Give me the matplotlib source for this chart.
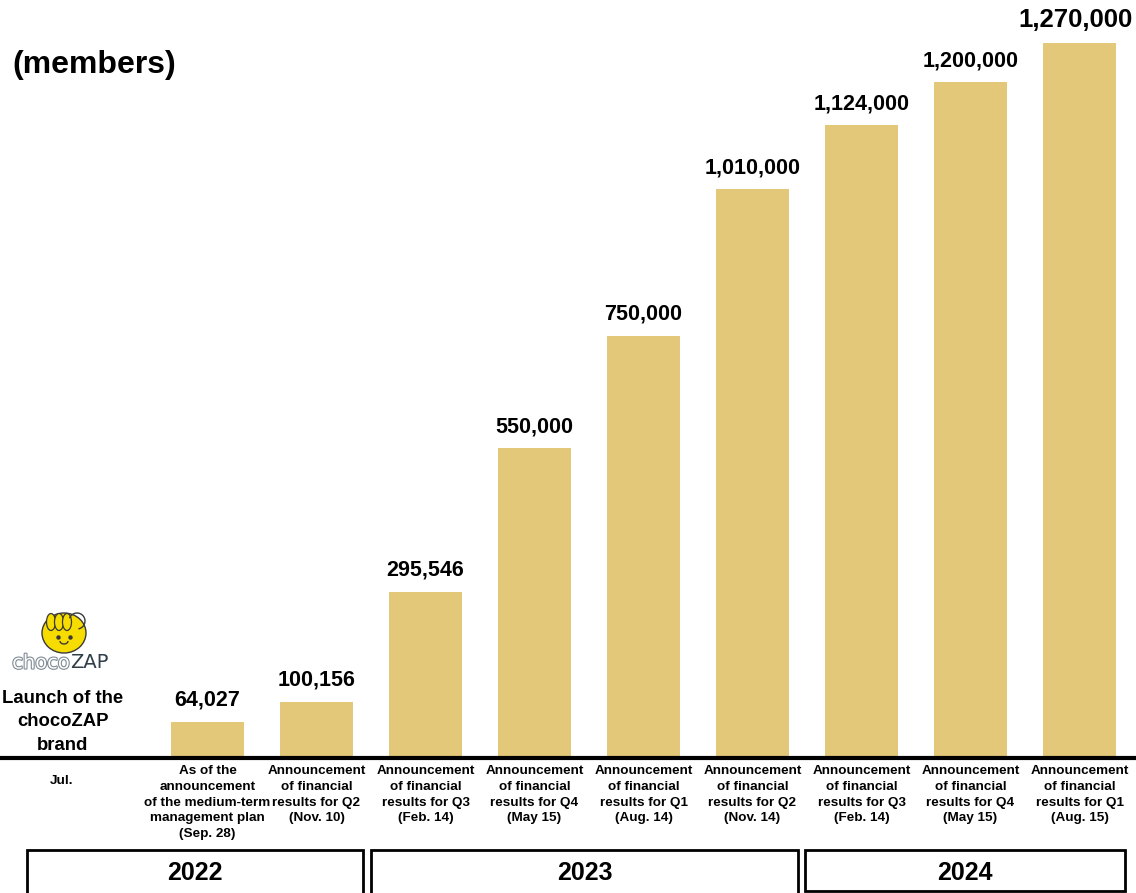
import matplotlib
matplotlib.use("Agg")
import matplotlib.pyplot as plt
from matplotlib.patches import Rectangle, Ellipse, Arc
import matplotlib.patheffects as pe

plt.rcParams['font.family'] = ['Liberation Sans', 'DejaVu Sans']

# ---- data ----
values = [64027, 100156, 295546, 550000, 750000, 1010000, 1124000, 1200000, 1270000]
value_labels = ["64,027", "100,156", "295,546", "550,000", "750,000",
                "1,010,000", "1,124,000", "1,200,000", "1,270,000"]
categories = [
    "As of the\nannouncement\nof the medium-term\nmanagement plan\n(Sep. 28)",
    "Announcement\nof financial\nresults for Q2\n(Nov. 10)",
    "Announcement\nof financial\nresults for Q3\n(Feb. 14)",
    "Announcement\nof financial\nresults for Q4\n(May 15)",
    "Announcement\nof financial\nresults for Q1\n(Aug. 14)",
    "Announcement\nof financial\nresults for Q2\n(Nov. 14)",
    "Announcement\nof financial\nresults for Q3\n(Feb. 14)",
    "Announcement\nof financial\nresults for Q4\n(May 15)",
    "Announcement\nof financial\nresults for Q1\n(Aug. 15)",
]
years = ["2022", "2023", "2024"]
unit_label = "(members)"
launch_label = "Launch of the\nchocoZAP\nbrand"
launch_month = "Jul."

W, H = 1136, 893
fig = plt.figure(figsize=(W / 100, H / 100), dpi=100)

def fx(x):
    return x / W

def fy(y):
    return 1 - y / H

# axes: full width, baseline at y=758px, top at 0
ax = fig.add_axes([0, fy(758), 1, 758 / H])
spacing = 109.0
x0 = 207.5
ax.set_xlim((0 - x0) / spacing, (W - x0) / spacing)
ax.set_ylim(0, 758 / 563.0 * 1e6)

bar_color = "#E2C878"
xs = list(range(len(values)))
bars = ax.bar(xs, values, width=0.67, color=bar_color, zorder=2)

for i, (b, lab) in enumerate(zip(bars, value_labels)):
    last = i == len(values) - 1
    fs = 18.5 if last else 15.5
    ax.annotate(lab, (b.get_x() + b.get_width() / 2, b.get_height()),
                xytext=(-3 if last else 0, 8), textcoords="offset points",
                ha="center", va="bottom", fontsize=fs, fontweight="bold")

for s in ["top", "right", "left"]:
    ax.spines[s].set_visible(False)
ax.spines["bottom"].set_linewidth(3)
ax.spines["bottom"].set_color("black")
ax.set_yticks([])
ax.set_xticks(xs)
ax.set_xticklabels(categories, fontsize=9.7, fontweight="bold", linespacing=1.42)
ax.tick_params(axis="x", length=0, pad=5)

# left-hand texts
fig.text(fx(62), fy(781), launch_month, ha="center", va="center",
         fontsize=9.7, fontweight="bold")
fig.text(fx(63), fy(722), launch_label, ha="center", va="center",
         fontsize=13.3, fontweight="bold", linespacing=1.5)
fig.text(fx(12), fy(65), unit_label, ha="left", va="center",
         fontsize=23, fontweight="bold")

# year boxes
boxes = [(27, 363, 896), (371, 798, 896), (805, 1125, 891)]
for (l, r, bt), yr in zip(boxes, years):
    rect = Rectangle((fx(l), fy(bt)), fx(r) - fx(l), fy(850) - fy(bt),
                     transform=fig.transFigure, fill=False, lw=2,
                     edgecolor="black", clip_on=False)
    fig.patches.append(rect)
    fig.text(fx((l + r) / 2), fy(873), yr, ha="center", va="center",
             fontsize=18, fontweight="bold")

# simple chocoZAP logo
lax = fig.add_axes([fx(5), fy(678), fx(125) - fx(5), (678 - 605) / H])
lax.set_xlim(5, 125)
lax.set_ylim(678, 605)
lax.axis("off")
lax.add_patch(Ellipse((64, 633), 44, 40, facecolor="#F7DC00",
                      edgecolor="#3a3a3a", lw=1.0))
for cx in (51, 59, 67):
    lax.add_patch(Ellipse((cx, 622), 9, 17, facecolor="#F7DC00",
                          edgecolor="#3a3a3a", lw=0.9))
lax.add_patch(Arc((77, 621), 16, 16, theta1=200, theta2=80,
                  edgecolor="#3a3a3a", lw=1.0))
lax.plot([58, 70], [637, 637], "o", color="#3a3a3a", ms=2.2)
lax.add_patch(Arc((64, 641), 8, 6, theta1=0, theta2=180,
                  edgecolor="#3a3a3a", lw=1.0))
lax.text(70, 663, "choco", ha="right", va="center", fontsize=14,
         color="white", family="DejaVu Sans",
         path_effects=[pe.withStroke(linewidth=1.6, foreground="#7f8a93")])
lax.text(70, 663, "ZAP", ha="left", va="center", fontsize=14,
         color="#2f3e4a", family="DejaVu Sans")

fig.savefig("out.png", dpi=100)
